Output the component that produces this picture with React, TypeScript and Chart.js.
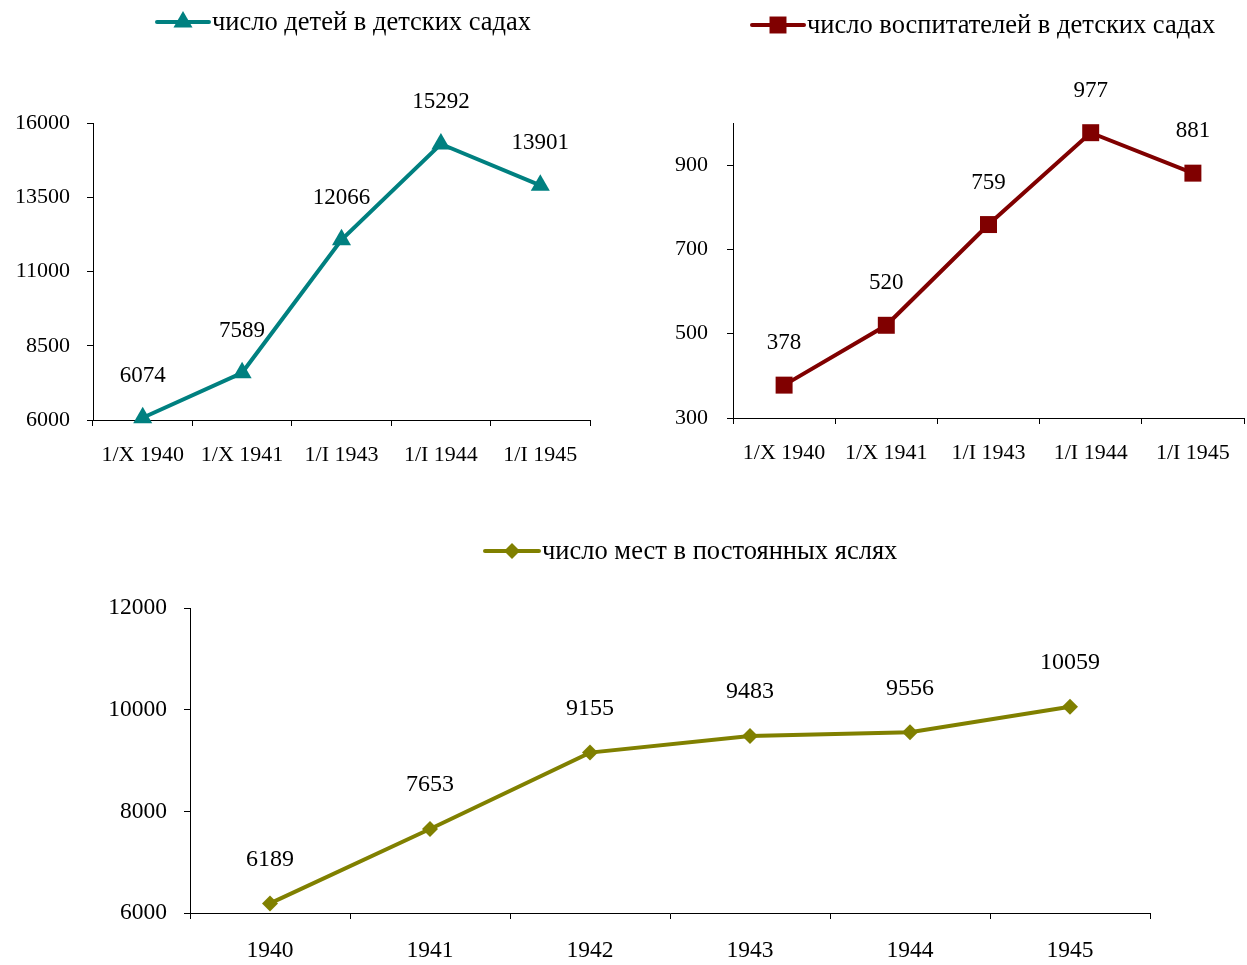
import React, { useEffect, useRef } from "react";
import { Chart, registerables } from "chart.js";

Chart.register(...registerables);

// ---- data ----
const kgCategories = ["1/X 1940", "1/X 1941", "1/I 1943", "1/I 1944", "1/I 1945"];
const kgChildren = [6074, 7589, 12066, 15292, 13901];
const kgTeachers = [378, 520, 759, 977, 881];
const nurseryYears = ["1940", "1941", "1942", "1943", "1944", "1945"];
const nurseryPlaces = [6189, 7653, 9155, 9483, 9556, 10059];
const childrenTicks = [6000, 8500, 11000, 13500, 16000];
const teacherTicks = [300, 500, 700, 900];
const nurseryTicks = [6000, 8000, 10000, 12000];

const childrenLabel = "число детей в детских садах";
const teachersLabel = "число воспитателей в детских садах";
const nurseryLabel = "число мест в постоянных яслях";

const FAMILY = "'Liberation Serif', 'Times New Roman', serif";

function drawMarker(ctx: CanvasRenderingContext2D, style: string, x: number, y: number, r: number) {
  ctx.beginPath();
  if (style === "triangle") {
    ctx.moveTo(x, y - r);
    ctx.lineTo(x + r * 0.866, y + r * 0.5);
    ctx.lineTo(x - r * 0.866, y + r * 0.5);
  } else if (style === "rect") {
    const s = r * Math.SQRT1_2;
    ctx.rect(x - s, y - s, 2 * s, 2 * s);
  } else {
    ctx.moveTo(x, y - r);
    ctx.lineTo(x + r, y);
    ctx.lineTo(x, y + r);
    ctx.lineTo(x - r, y);
  }
  ctx.closePath();
  ctx.fill();
}

const lineLegend = {
  id: "lineLegend",
  afterDraw(chart: any, _args: any, opts: any) {
    const ds = chart.data.datasets[0];
    const ctx: CanvasRenderingContext2D = chart.ctx;
    ctx.save();
    ctx.strokeStyle = ds.borderColor;
    ctx.lineWidth = 4;
    ctx.lineCap = "round";
    ctx.beginPath();
    ctx.moveTo(opts.x, opts.y);
    ctx.lineTo(opts.x + opts.len, opts.y);
    ctx.stroke();
    ctx.fillStyle = ds.borderColor;
    drawMarker(ctx, ds.pointStyle, opts.x + opts.len / 2, opts.y, ds.pointRadius);
    ctx.fillStyle = "#000";
    ctx.font = `${opts.size}px ${FAMILY}`;
    ctx.textBaseline = "middle";
    ctx.textAlign = "left";
    ctx.fillText(ds.label, opts.x + opts.len + 3, opts.y + 1);
    ctx.restore();
  },
};

const valueLabels = {
  id: "valueLabels",
  afterDatasetsDraw(chart: any, _args: any, opts: any) {
    const meta = chart.getDatasetMeta(0);
    const ds = chart.data.datasets[0];
    const ctx: CanvasRenderingContext2D = chart.ctx;
    ctx.save();
    ctx.fillStyle = "#000";
    ctx.font = `${opts.size}px ${FAMILY}`;
    ctx.textAlign = "center";
    ctx.textBaseline = "middle";
    meta.data.forEach((pt: any, i: number) => {
      ctx.fillText(String(ds.data[i]), pt.x, pt.y - opts.dy);
    });
    ctx.restore();
  },
};

interface Spec {
  labels: string[];
  values: number[];
  label: string;
  color: string;
  pointStyle: string;
  pointRadius: number;
  min: number;
  max: number;
  ticks: number[];
  yWidth: number;
  yPad: number;
  xHeight: number;
  xPad: number;
  tickSize: number;
  labelSize: number;
  labelDy: number;
  padding: { top: number; right: number; left: number; bottom: number };
  legend: { x: number; y: number; len: number; size: number };
}

function LineChart({ spec, width, height, style }: { spec: Spec; width: number; height: number; style: React.CSSProperties }) {
  const ref = useRef<HTMLCanvasElement | null>(null);
  useEffect(() => {
    if (!ref.current) return;
    const font = { family: FAMILY, size: spec.tickSize };
    const chart = new Chart(ref.current, {
      type: "line",
      data: {
        labels: spec.labels,
        datasets: [
          {
            label: spec.label,
            data: spec.values,
            borderColor: spec.color,
            backgroundColor: spec.color,
            borderWidth: 4,
            pointStyle: spec.pointStyle as any,
            pointRadius: spec.pointRadius,
            pointBorderWidth: 0,
            pointBackgroundColor: spec.color,
            tension: 0,
            fill: false,
            clip: false as any,
          },
        ],
      },
      options: {
        responsive: false,
        animation: false,
        layout: { padding: spec.padding },
        plugins: {
          legend: { display: false },
          tooltip: { enabled: false },
          lineLegend: spec.legend,
          valueLabels: { dy: spec.labelDy, size: spec.labelSize },
        } as any,
        scales: {
          x: {
            type: "category",
            offset: true,
            grid: { offset: true, drawOnChartArea: false, drawTicks: true, tickLength: 6, color: "#000", lineWidth: 1 },
            border: { display: true, color: "#000", width: 1 },
            ticks: { font, color: "#000", padding: spec.xPad, maxRotation: 0, autoSkip: false },
            afterFit: (s: any) => {
              s.height = spec.xHeight;
              s.paddingLeft = 0;
              s.paddingRight = 0;
            },
          },
          y: {
            type: "linear",
            min: spec.min,
            max: spec.max,
            afterBuildTicks: (s: any) => {
              s.ticks = spec.ticks.map((v) => ({ value: v }));
            },
            grid: { drawOnChartArea: false, drawTicks: true, tickLength: 6, color: "#000", lineWidth: 1 },
            border: { display: true, color: "#000", width: 1 },
            ticks: { font, color: "#000", padding: spec.yPad, callback: (v: any) => String(v) },
            afterFit: (s: any) => {
              s.width = spec.yWidth;
            },
          },
        },
      },
      plugins: [lineLegend as any, valueLabels as any],
    });
    return () => chart.destroy();
  }, [spec]);
  return <canvas ref={ref} width={width} height={height} style={{ position: "absolute", width, height, ...style }} />;
}

const spec1: Spec = {
  labels: kgCategories,
  values: kgChildren,
  label: childrenLabel,
  color: "#008080",
  pointStyle: "triangle",
  pointRadius: 11,
  min: 6000,
  max: 16000,
  ticks: childrenTicks,
  yWidth: 93,
  yPad: 17,
  xHeight: 60,
  xPad: 16,
  tickSize: 22,
  labelSize: 23,
  labelDy: 42,
  padding: { top: 123, right: 30, left: 0, bottom: 0 },
  legend: { x: 157, y: 22, len: 52, size: 26.5 },
};

const spec2: Spec = {
  labels: kgCategories,
  values: kgTeachers,
  label: teachersLabel,
  color: "#800000",
  pointStyle: "rect",
  pointRadius: 12,
  min: 300,
  max: 1000,
  ticks: teacherTicks,
  yWidth: 113,
  yPad: 19,
  xHeight: 62,
  xPad: 16,
  tickSize: 22,
  labelSize: 23,
  labelDy: 42,
  padding: { top: 123, right: 4, left: 0, bottom: 0 },
  legend: { x: 132, y: 25, len: 52, size: 26.5 },
};

const spec3: Spec = {
  labels: nurseryYears,
  values: nurseryPlaces,
  label: nurseryLabel,
  color: "#808000",
  pointStyle: "rectRot",
  pointRadius: 8,
  min: 6000,
  max: 12000,
  ticks: nurseryTicks,
  yWidth: 190,
  yPad: 17,
  xHeight: 52,
  xPad: 18,
  tickSize: 23.5,
  labelSize: 24,
  labelDy: 44,
  padding: { top: 118, right: 97, left: 0, bottom: 0 },
  legend: { x: 485, y: 61, len: 54, size: 26.5 },
};

export default function App() {
  return (
    <div style={{ position: "absolute", left: 0, top: 0, width: 1247, height: 965, background: "#fff", overflow: "hidden" }}>
      <LineChart spec={spec1} width={620} height={480} style={{ left: 0, top: 0 }} />
      <LineChart spec={spec2} width={636} height={480} style={{ left: 620, top: 0 }} />
      <LineChart spec={spec3} width={1247} height={475} style={{ left: 0, top: 490 }} />
    </div>
  );
}
